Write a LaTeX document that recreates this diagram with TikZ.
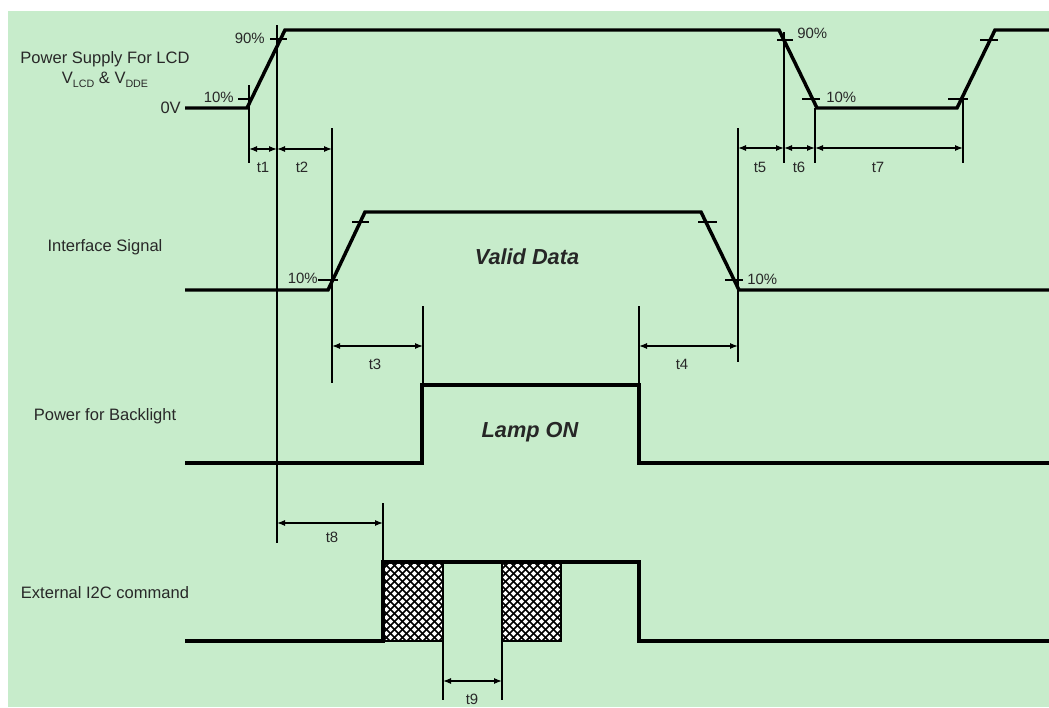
\documentclass[tikz,border=0pt]{standalone}
\usepackage{fontspec}
\setmainfont{Liberation Sans}
\usetikzlibrary{arrows.meta}
\definecolor{bggreen}{RGB}{199,236,203}
\definecolor{txt}{RGB}{40,40,40}
\begin{document}
\begin{tikzpicture}[x=0.75pt,y=-0.75pt,
  sig/.style={line width=2.6pt, line join=miter},
  vline/.style={line width=0.9pt},
  tickmark/.style={line width=0.9pt},
  dim/.style={line width=0.9pt,{Latex[length=6pt,width=4.5pt]}-{Latex[length=6pt,width=4.5pt]}},
  lbl/.style={font=\fontsize{12.4pt}{14pt}\selectfont, text=txt, inner sep=0pt},
  small/.style={font=\fontsize{11.2pt}{13pt}\selectfont, text=txt, inner sep=0pt},
  big/.style={font=\fontsize{16.3pt}{19pt}\selectfont\bfseries\itshape, text=black!85, inner sep=0pt},
  hbox/.style={line width=1.1pt},
  hatchline/.style={line width=1.1pt}]
\useasboundingbox (0,0) rectangle (1049,707);
\fill[bggreen] (8,11) rectangle (1049,707);

% ---- row labels
\node[lbl] (lps) at (105,59) {Power Supply For LCD};
\node[lbl] (lv) at (105,80) {V\raisebox{-0.45ex}{\fontsize{8pt}{9pt}\selectfont LCD} \& V\raisebox{-0.45ex}{\fontsize{8pt}{9pt}\selectfont DDE}};
\node[lbl,anchor=east] (l0v) at (181,108) {0V};
\node[lbl] (lif) at (105,247) {Interface Signal};
\node[lbl] (lbl3) at (105,416) {Power for Backlight};
\node[lbl] (li2c) at (105,593) {External I2C command};

% ---- signals
\draw[sig] (185,108) -- (247,108) -- (285,30) -- (779,30) -- (817,108) -- (957,108) -- (995,30) -- (1049,30);
\draw[sig] (185,290) -- (328,290) -- (365,212) -- (701,212) -- (739,290) -- (1049,290);
\draw[sig] (185,463) -- (422,463) -- (422,385) -- (639,385) -- (639,463) -- (1049,463);

% hatched boxes
\foreach \xa/\xb in {383/443, 502/561}{
  \begin{scope}
    \clip (\xa,562) rectangle (\xb,641);
    \fill[white] (\xa,562) rectangle (\xb,641);
    \foreach \k in {-12,...,18}{
      \draw[hatchline] ({\xa+\k*8-80},641) -- ++(80,-80);
      \draw[hatchline] ({\xa+\k*8-80},562) -- ++(80,80);
    }
  \end{scope}
  \draw[hbox] (\xa,562) rectangle (\xb,641);
}
\draw[sig] (185,641) -- (383,641) -- (383,562) -- (639,562) -- (639,641) -- (1049,641);

% ---- percent ticks and labels
\draw[tickmark] (238,99) -- (251,99);
\draw[tickmark] (270,39) -- (287,39);
\node[small,anchor=east] (p10a) at (234,97) {10\%};
\node[small,anchor=east] (p90a) at (265,38) {90\%};
\draw[tickmark] (777,40) -- (793,40);
\draw[tickmark] (802,99) -- (820,99);
\node[small,anchor=west] (p90b) at (797,33) {90\%};
\node[small,anchor=west] (p10b) at (826,97) {10\%};
\draw[tickmark] (948,99) -- (968,99);
\draw[tickmark] (980,40) -- (998,40);

\draw[tickmark] (318,280) -- (338,280);
\draw[tickmark] (352,222) -- (369,222);
\draw[tickmark] (698,222) -- (717,222);
\draw[tickmark] (725,280) -- (743,280);
\node[small,anchor=east] (p10c) at (318,278) {10\%};
\node[small,anchor=west] (p10d) at (747,279) {10\%};

% ---- vertical reference lines
\draw[vline] (249,85) -- (249,163);
\draw[vline] (277,25) -- (277,543);
\draw[vline] (332,128) -- (332,383);
\draw[vline] (738,128) -- (738,362);
\draw[vline] (784,32) -- (784,163);
\draw[vline] (815,108) -- (815,163);
\draw[vline] (963,97) -- (963,163);
\draw[vline] (423,306) -- (423,385);
\draw[vline] (639,306) -- (639,385);
\draw[vline] (383,503) -- (383,562);
\draw[vline] (443,641) -- (443,700);
\draw[vline] (502,641) -- (502,700);

% ---- dimension arrows
\draw[dim] (249,149) -- (277,149);
\draw[dim] (277,149) -- (332,149);
\draw[dim] (738,148) -- (784,148);
\draw[dim] (784,148) -- (815,148);
\draw[dim] (815,148) -- (963,148);
\draw[dim] (332,346) -- (423,346);
\draw[dim] (639,346) -- (738,346);
\draw[dim] (277,523) -- (383,523);
\draw[dim] (443,681) -- (502,681);

\node[small] (t1) at (263,167) {t1};
\node[small] (t2) at (302,167) {t2};
\node[small] (t5) at (760,167) {t5};
\node[small] (t6) at (799,167) {t6};
\node[small] (t7) at (878,167) {t7};
\node[small] (t3) at (375,364) {t3};
\node[small] (t4) at (682,364) {t4};
\node[small] (t8) at (332,537) {t8};
\node[small] (t9) at (472,699) {t9};

% ---- big labels
\node[big] (vd) at (527,257) {Valid Data};
\node[big] (lamp) at (530,432) {Lamp ON};
\end{tikzpicture}
\end{document}
